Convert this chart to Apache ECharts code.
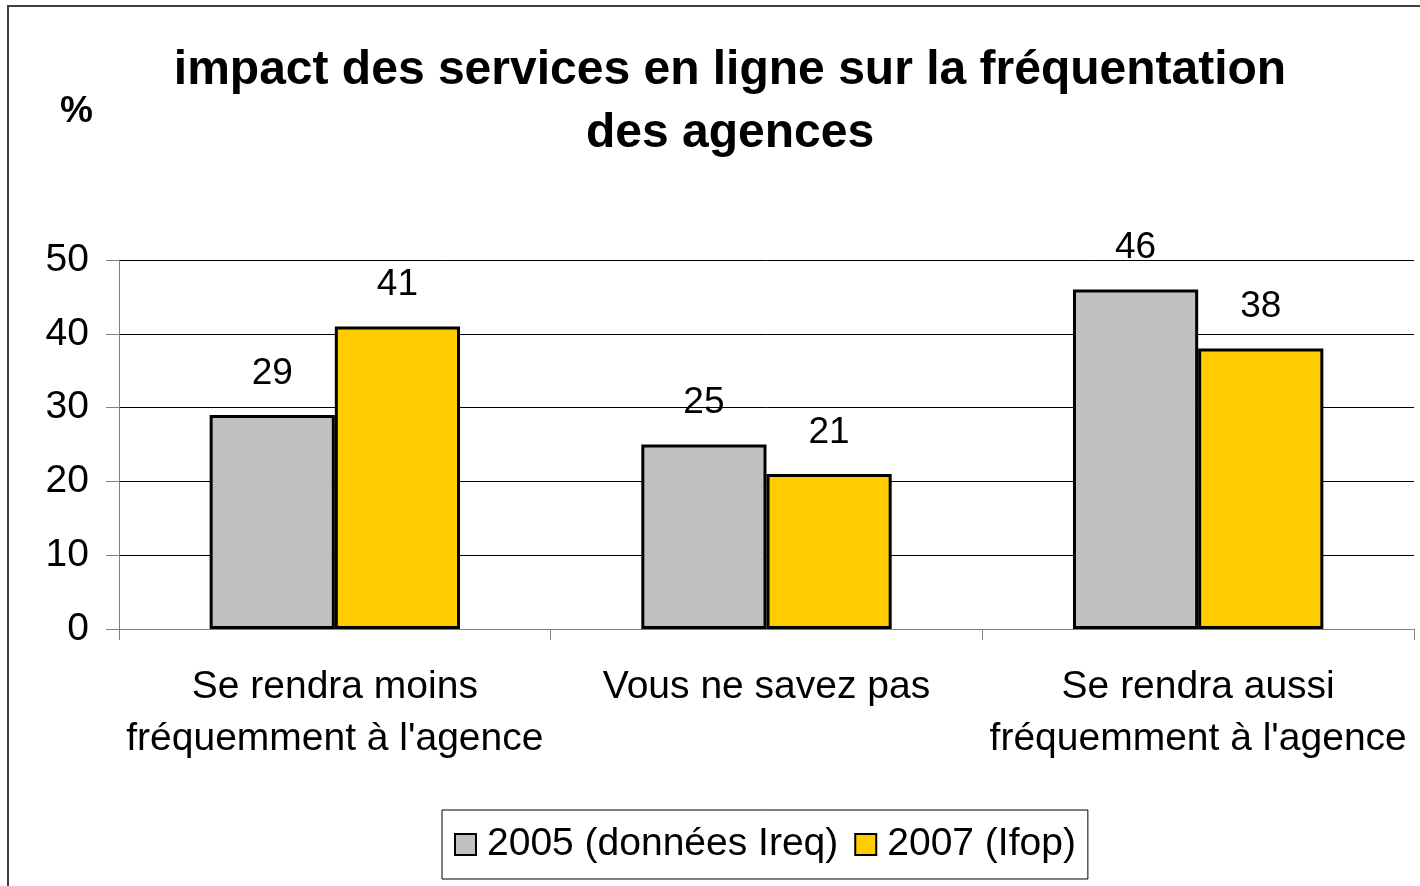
<!DOCTYPE html>
<html lang="fr">
<head>
<meta charset="utf-8">
<title>impact des services en ligne</title>
<style>
  html, body { margin: 0; padding: 0; background: #fff; }
  #main { width: 1420px; height: 886px; }
</style>
</head>
<body>
<div id="main"></div>
<script src="https://cdn.jsdelivr.net/npm/echarts@6/dist/echarts.min.js"></script>
<script>
// données
var categories = ['Se rendra moins\nfréquemment à l\'agence', 'Vous ne savez pas', 'Se rendra aussi\nfréquemment à l\'agence'];
var seriesNames = ['2005 (données Ireq)', '2007 (Ifop)'];
var values2005 = [29, 25, 46];
var values2007 = [41, 21, 38];
var yTicks = [0, 10, 20, 30, 40, 50];

var font = '"Liberation Sans", Arial, sans-serif';
var chart = echarts.init(document.getElementById('main'));

var labelStyle = {
    show: true,
    position: 'top',
    distance: 23,
    color: '#000',
    fontSize: 37,
    fontFamily: font
};

var option = {
    animation: false,
    backgroundColor: '#fff',
    textStyle: { fontFamily: font },
    title: {
        text: 'impact des services en ligne sur la fréquentation\ndes agences',
        left: 725,
        textAlign: 'center',
        top: 34,
        textStyle: { fontSize: 48, fontWeight: 'bold', color: '#000', lineHeight: 63, fontFamily: font }
    },
    graphic: [
        {
            type: 'rect',
            shape: { x: 8, y: 6, width: 1440, height: 900 },
            style: { fill: null, stroke: '#404040', lineWidth: 2 },
            silent: true
        },
        {
            type: 'text',
            left: 60,
            top: 93,
            style: { text: '%', fill: '#000', font: 'bold 37px ' + font }
        }
    ],
    legend: {
        data: seriesNames,
        icon: 'rect',
        left: 442,
        top: 810,
        itemWidth: 21,
        itemHeight: 21,
        itemGap: 16,
        padding: [15, 12, 15, 12],
        borderColor: '#000',
        borderWidth: 1,
        textStyle: { fontSize: 39, color: '#000', fontFamily: font, padding: [0, 0, 0, 6] },
        itemStyle: { borderColor: '#000', borderWidth: 2 }
    },
    grid: { left: 119, right: 6, top: 260, bottom: 257 },
    xAxis: {
        type: 'category',
        data: categories,
        axisLine: { lineStyle: { color: '#808080', width: 1 } },
        axisTick: { show: true, length: 11, lineStyle: { color: '#808080' } },
        axisLabel: { fontSize: 39, color: '#000', lineHeight: 52, margin: 32, fontFamily: font, interval: 0 }
    },
    yAxis: {
        type: 'value',
        min: yTicks[0],
        max: yTicks[yTicks.length - 1],
        interval: 10,
        axisLine: { show: true, lineStyle: { color: '#808080', width: 1 } },
        axisTick: { show: true, length: 13, lineStyle: { color: '#808080' } },
        axisLabel: { fontSize: 39, color: '#000', margin: 30, fontFamily: font },
        splitLine: { lineStyle: { color: '#000', width: 1 } }
    },
    series: [
        {
            name: seriesNames[0],
            type: 'bar',
            data: values2005,
            barGap: '0%',
            barCategoryGap: '42%',
            itemStyle: { color: '#C0C0C0', borderColor: '#000', borderWidth: 3 },
            label: labelStyle
        },
        {
            name: seriesNames[1],
            type: 'bar',
            data: values2007,
            itemStyle: { color: '#FFCC00', borderColor: '#000', borderWidth: 3 },
            label: labelStyle
        }
    ]
};

chart.setOption(option);
</script>
</body>
</html>
